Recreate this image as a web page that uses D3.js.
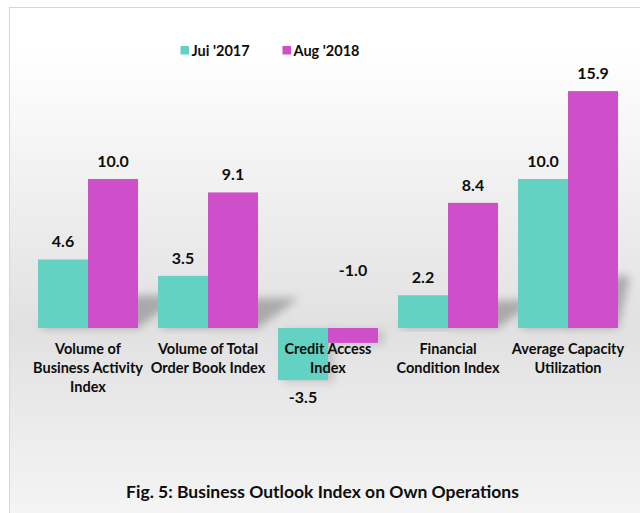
<!DOCTYPE html>
<html>
<head>
<meta charset="utf-8">
<script src="https://cdn.jsdelivr.net/npm/d3@7/dist/d3.min.js"></script>
<style>
  html, body { margin: 0; padding: 0; background: #fff; }
  svg { display: block; }
  text { font-family: Lato, "Open Sans", sans-serif; font-weight: 700; fill: #0d0d0d; }
</style>
</head>
<body>
<svg id="chart" width="640" height="513"></svg>
<script>
const categories = [
  "Volume of\nBusiness Activity\nIndex",
  "Volume of Total\nOrder Book Index",
  "Credit Access\nIndex",
  "Financial\nCondition Index",
  "Average Capacity\nUtilization"
];
const seriesNames = ["Jui '2017", "Aug '2018"];
const jul2017 = [4.6, 3.5, -3.5, 2.2, 10.0];
const aug2018 = [10.0, 9.1, -1.0, 8.4, 15.9];
const seriesColors = ["#63d2c3", "#cf4fcb"];
const titleText = "Fig. 5: Business Outlook Index on Own Operations";

const seriesValues = [jul2017, aug2018];
const rows = categories.map((c, i) => ({
  cat: c,
  vals: seriesNames.map((s, j) => ({ series: s, j, value: seriesValues[j][i], cat: c }))
}));

const W = 640, H = 513;
const svg = d3.select("#chart");
const defs = svg.append("defs");
const fmt = d3.formatLocale({ decimal: ".", thousands: ",", grouping: [3], currency: ["", ""], minus: "-" }).format(".1f");

// background gradient
const bg = defs.append("linearGradient").attr("id", "bg")
  .attr("x1", 0).attr("y1", 0).attr("x2", 0).attr("y2", 1);
bg.append("stop").attr("offset", "0%").attr("stop-color", "#ffffff");
bg.append("stop").attr("offset", "8%").attr("stop-color", "#ffffff");
bg.append("stop").attr("offset", "60%").attr("stop-color", "#e1e1e1");
bg.append("stop").attr("offset", "100%").attr("stop-color", "#f7f7f7");

svg.append("rect").attr("x", 9.5).attr("y", 7.5).attr("width", W + 20).attr("height", H + 20)
  .attr("fill", "url(#bg)").attr("stroke", "#d6d6d6").attr("stroke-width", 1);

// shadow defs
defs.append("filter").attr("id", "blur").attr("x", "-50%").attr("y", "-50%").attr("width", "200%").attr("height", "200%")
  .append("feGaussianBlur").attr("stdDeviation", 4);

const x0 = d3.scaleBand().domain(categories).range([28, 628])
  .paddingInner(1 / 6).paddingOuter(1 / 12);
const x1 = d3.scaleBand().domain(seriesNames).range([0, x0.bandwidth()]);
const y = d3.scaleLinear().domain([-4, 17]).range([328 + 4 * 14.9, 328 - 17 * 14.9]);
const color = d3.scaleOrdinal().domain(seriesNames).range(seriesColors);

// shadows (perspective, cast up-right from the base)
const shadowG = svg.append("g");
rows.forEach(r => {
  r.vals.forEach(d => {
    const xa = x0(d.cat) + x1(d.series), xb = xa + x1.bandwidth();
    const b = y(0);
    if (d.value > 0) {
      const h = b - y(d.value);
      const dx = Math.min(0.3 * h, 630 - xb), dy = 0.22 * h;
      shadowG.append("path")
        .attr("d", `M${xa},${b}L${xb},${b}L${xb + dx},${b - dy}L${xa + dx},${b - dy}Z`)
        .attr("fill", "#7a7a7a").attr("opacity", 0.55).attr("filter", "url(#blur)");
    } else {
      shadowG.append("rect")
        .attr("x", xa + 6).attr("y", b + 2).attr("width", x1.bandwidth())
        .attr("height", y(d.value) - b)
        .attr("fill", "#888").attr("opacity", 0.35).attr("filter", "url(#blur)");
    }
  });
});

// bars
const groups = svg.append("g").selectAll("g").data(rows).join("g")
  .attr("transform", d => `translate(${x0(d.cat)},0)`);
groups.selectAll("rect").data(d => d.vals).join("rect")
  .attr("x", d => x1(d.series))
  .attr("y", d => y(Math.max(0, d.value)))
  .attr("width", x1.bandwidth())
  .attr("height", d => Math.abs(y(d.value) - y(0)))
  .attr("fill", d => color(d.series));

// value labels
groups.selectAll("text.val").data(d => d.vals).join("text")
  .attr("class", "val")
  .attr("x", d => x1(d.series) + x1.bandwidth() / 2)
  .attr("y", d => {
    if (d.value >= 0) return y(d.value) - 12;
    const len = y(d.value) - y(0);
    return len < 20 ? y(0) - 52 : y(d.value) + 23;
  })
  .attr("text-anchor", "middle")
  .attr("font-size", 16)
  .text(d => fmt(d.value));

// category labels
const catLabels = svg.append("g").selectAll("text").data(categories).join("text")
  .attr("x", d => x0(d) + x0.bandwidth() / 2)
  .attr("y", 354)
  .attr("text-anchor", "middle")
  .attr("font-size", 14.5);
catLabels.each(function (d) {
  const t = d3.select(this);
  d.split("\n").forEach((line, i) => {
    t.append("tspan").attr("x", x0(d) + x0.bandwidth() / 2)
      .attr("dy", i === 0 ? 0 : 19).text(line);
  });
});

// legend
const legendX = [180.5, 282.5];
const leg = svg.append("g").selectAll("g").data(seriesNames).join("g")
  .attr("transform", (d, i) => `translate(${legendX[i]},46)`);
leg.append("rect").attr("width", 8.5).attr("height", 8.5).attr("fill", d => color(d));
leg.append("text").attr("x", 11).attr("y", 9.5).attr("font-size", 14.5).text(d => d);

// title
svg.append("text").attr("x", 322.5).attr("y", 498).attr("text-anchor", "middle")
  .attr("font-size", 17.5).text(titleText);
</script>
</body>
</html>
